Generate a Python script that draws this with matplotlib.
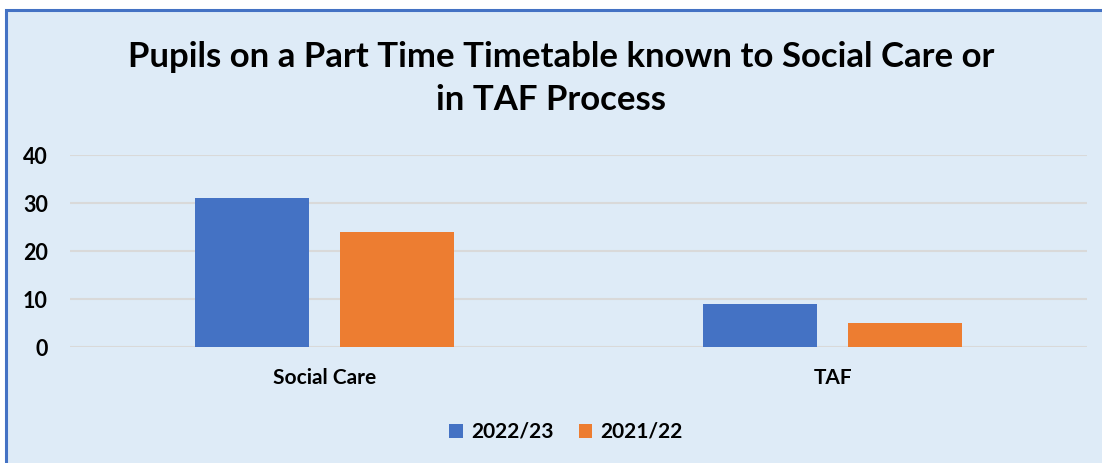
import matplotlib
matplotlib.use("Agg")
import matplotlib.pyplot as plt
from matplotlib.patches import Rectangle
import numpy as np

categories = ["Social Care", "TAF"]
series_names = ["2022/23", "2021/22"]
values_2022 = [31, 9]
values_2021 = [24, 5]
yticks = [0, 10, 20, 30, 40]

blue = "#4472C4"
orange = "#ED7D31"
bg = "#DEEBF7"

plt.rcParams['font.family'] = ['Lato', 'DejaVu Sans']

fig = plt.figure(figsize=(11.02, 4.63), dpi=100)
fig.patch.set_facecolor("white")
W, H = 1102, 463
# chart border panel
panel = Rectangle((6 / W, -0.1), 1.2, (H - 10) / H + 0.1, transform=fig.transFigure,
                  facecolor=bg, edgecolor=blue, linewidth=2.2, zorder=-5)
fig.patches.append(panel)

ax = fig.add_axes([70 / W, (H - 347) / H, (1087 - 70) / W, (347 - 155) / H])
ax.set_facecolor("none")
ax.set_zorder(2)
x = np.arange(len(categories))
w = 0.224
off = 0.1425
ax.bar(x - off, values_2022, w, color=blue, label=series_names[0], zorder=3)
ax.bar(x + off, values_2021, w, color=orange, label=series_names[1], zorder=3)
ax.set_xlim(-0.5, 1.5)
ax.set_ylim(0, 40)
ax.set_yticks(yticks)
ax.set_xticks(x)
ax.set_xticklabels(categories, fontsize=15, fontweight="bold")
for lab in ax.get_yticklabels():
    lab.set_fontsize(15.5)
    lab.set_fontweight("bold")
ax.tick_params(axis="y", length=0, pad=16)
ax.tick_params(axis="x", length=0, pad=15)
ax.grid(axis="y", color="#D9D9D9", linewidth=1.5, zorder=0)
for s in ax.spines.values():
    s.set_visible(False)

fig.text(561 / W, (H - 57) / H, "Pupils on a Part Time Timetable known to Social Care or",
         ha="center", va="center", fontsize=25, fontweight="bold", zorder=5)
fig.text(551 / W, (H - 100) / H, "in TAF Process",
         ha="center", va="center", fontsize=25, fontweight="bold", zorder=5)

leg = fig.legend(loc="center", bbox_to_anchor=(566 / W, (H - 432) / H), ncol=2, frameon=False,
                 prop={"size": 15, "weight": "bold"}, handlelength=0.65, handleheight=0.65,
                 columnspacing=1.2, handletextpad=0.4)

fig.savefig("out.png", dpi=100, facecolor="white")
